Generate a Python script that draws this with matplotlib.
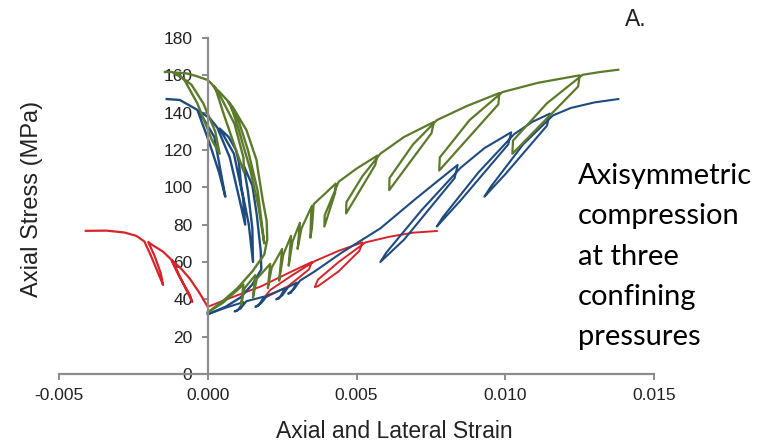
import matplotlib
matplotlib.use('Agg')
import matplotlib.pyplot as plt
from matplotlib.ticker import FormatStrFormatter

# ---- data (strain, stress in MPa) ----
# red: lowest confining pressure
red_axial_x = [0.0000, 0.0008, 0.0018, 0.0027, 0.0035, 0.0034, 0.0027, 0.0020, 0.0019, 0.0021, 0.0028, 0.0036,
               0.0044, 0.0052, 0.0051, 0.0044, 0.0037, 0.0036, 0.0037, 0.0044, 0.0053,
               0.0061, 0.0069, 0.0077]
red_axial_y = [36, 41, 47, 54, 60, 56, 47, 41.5, 41, 45, 52.5, 60.5,
               66, 70.5, 66, 55, 47, 46.6, 50.5, 60, 70.5,
               73.5, 75.7, 76.6]
red_lat_x = [0.0000, -0.0003, -0.0006, -0.0009, -0.0012, -0.00102, -0.00072, -0.00052, -0.00062, -0.00095, -0.00124,
             -0.0015, -0.0019, -0.0020, -0.00178, -0.00158, -0.0015, -0.00164, -0.0019, -0.00213,
             -0.0024, -0.0028, -0.0034, -0.0041]
red_lat_y = [36, 44, 51, 56.5, 61, 55, 45, 38.6, 43, 52, 61.5,
             65.5, 69.5, 70.7, 63, 54, 47.7, 53, 63, 71,
             74, 75.8, 76.8, 76.7]

# blue: middle confining pressure
blue_axial_x = [0.0000, 0.0006, 0.0012, 0.0010, 0.0009, 0.0011, 0.0013, 0.0019, 0.0017, 0.0016, 0.0018,
                0.0020, 0.0026, 0.0024, 0.0023, 0.0025, 0.0027, 0.0030, 0.0028, 0.0027, 0.0029, 0.0031,
                0.0036, 0.0045, 0.0058, 0.0070, 0.0084, 0.0083, 0.0066, 0.0058, 0.0060, 0.0072, 0.0085,
                0.0093, 0.0102, 0.0101, 0.0085, 0.0077, 0.0079, 0.0091, 0.0103, 0.0109, 0.0115, 0.0114,
                0.0100, 0.0093, 0.0095, 0.0106, 0.0116, 0.0122, 0.0130, 0.0138]
blue_axial_y = [32, 35.5, 38.5, 34, 33.5, 35, 39, 41.5, 36.5, 36, 38,
                42, 46, 40.5, 40, 42, 46.5, 49, 43.5, 43, 45.5, 50,
                55, 65, 78, 94, 112, 105, 72, 60, 65, 88, 110.5,
                121, 129.5, 123, 93, 79, 84, 108, 128.5, 135, 139.5, 133,
                107, 95, 100, 123, 138.5, 142.5, 145.5, 147.3]
blue_lat_x = [0.0000, 0.0006, 0.0011, 0.0015, 0.0018, 0.00178, 0.00165, 0.0015, 0.0012, 0.00135, 0.0015,
              0.00152, 0.00138, 0.00113, 0.00105, 0.00095, 0.0007, 0.0004, 0.00088, 0.00118, 0.00126,
              0.00106, 0.00074, 0.00032, 0.00007, -0.0003, 0.00022, 0.00055, 0.00059, 0.00038, 0.00003,
              -0.00035, -0.00094, -0.00138]
blue_lat_y = [32, 36, 41, 48, 56, 66, 85, 101, 112, 98, 78,
              60, 80, 100, 113, 120, 127, 131.5, 118, 95, 80,
              94, 116, 132, 137, 141, 127, 98.5, 95, 108, 125,
              141.5, 146.8, 147.3]

# green: highest confining pressure
green_axial_x = [0.0000, 0.0005, 0.0010, 0.0012, 0.00112, 0.00124, 0.0016, 0.00152, 0.00165, 0.0021,
                 0.00202, 0.00215, 0.0025, 0.0024, 0.00254, 0.0028, 0.00272, 0.00285, 0.0031, 0.00302,
                 0.00315, 0.0035, 0.00347, 0.00345, 0.0035, 0.00356, 0.0039, 0.0043, 0.00428, 0.00392,
                 0.00393, 0.0044, 0.0050, 0.0057, 0.00563, 0.00465, 0.00466, 0.0052, 0.0058, 0.0066,
                 0.0076, 0.00752, 0.0061, 0.00611, 0.0069, 0.0077, 0.0087, 0.0098, 0.00977, 0.00778,
                 0.0078, 0.0088, 0.0099, 0.0111, 0.0125, 0.01245, 0.01024, 0.01026, 0.0114, 0.0126,
                 0.0132, 0.0138]
green_axial_y = [33, 38, 45, 48, 37, 46, 53, 41, 51, 59,
                 46, 57, 67, 50, 64, 74, 58, 71, 81, 67,
                 78, 90, 84, 73, 78, 91, 96, 102, 97, 79,
                 85, 103, 110, 117, 112, 86, 92, 106, 118, 127,
                 135, 129, 98.5, 105, 123, 136, 143.5, 150.5, 144.5, 109,
                 116, 136, 151, 156, 160, 154, 118, 125, 145, 160.3,
                 161.8, 163]
green_lat_x = [0.0000, 0.0005, 0.0010, 0.0015, 0.0019, 0.0020, 0.00198, 0.00185, 0.0017, 0.00164,
               0.0013, 0.00084, 0.0007, 0.00105, 0.00135, 0.00168, 0.0019, 0.0017, 0.00142, 0.00102,
               0.00075, 0.0004, 0.0002, 0.00045, 0.0009, 0.0012, 0.00122, 0.00095, 0.00052, 0.00025,
               0.0000, -0.0004, -0.0007, -0.0011, -0.00055, -0.00015, 0.00025, 0.0004, 0.00015, -0.00035,
               -0.0008, -0.0012, -0.00144]
green_lat_y = [33, 39, 46, 55, 64, 72, 82, 93, 108, 114.6,
               130.7, 143, 145.5, 135, 120, 98, 70, 90, 110, 132,
               145, 151, 154, 148, 134, 116, 108, 120, 140, 153.5,
               157.5, 159.7, 161, 161.5, 155, 145, 130, 118, 125, 145,
               158, 161.8, 161.8]

x_ticks = [-0.005, 0.000, 0.005, 0.010, 0.015]
y_ticks = [0, 20, 40, 60, 80, 100, 120, 140, 160, 180]

red = '#d8232a'
blue = '#1f4b7e'
green = '#5c7a2b'
grey = '#8c8c8c'

plt.rcParams['font.family'] = ['Liberation Sans', 'DejaVu Sans']

fig = plt.figure(figsize=(7.71, 4.45), dpi=100)
ax = fig.add_axes([59 / 771, 71 / 445, 595 / 771, 336 / 445])

ax.plot(red_axial_x, red_axial_y, color=red, lw=1.4)
ax.plot(red_lat_x, red_lat_y, color=red, lw=1.6)
ax.plot(blue_axial_x, blue_axial_y, color=blue, lw=1.5)
ax.plot(blue_lat_x, blue_lat_y, color=blue, lw=1.7)
ax.plot(green_axial_x, green_axial_y, color=green, lw=1.6)
ax.plot(green_lat_x, green_lat_y, color=green, lw=1.7)

ax.set_xlim(-0.005, 0.015)
ax.set_ylim(0, 180)
ax.set_xticks(x_ticks)
ax.set_yticks(y_ticks)
ax.xaxis.set_major_formatter(FormatStrFormatter('%.3f'))

# axes drawn through the origin, excel style
ax.spines['left'].set_position(('data', 0))
ax.spines['top'].set_visible(False)
ax.spines['right'].set_visible(False)
for s in ['left', 'bottom']:
    ax.spines[s].set_color(grey)
    ax.spines[s].set_linewidth(1.6)
ax.tick_params(axis='both', direction='out', length=4, width=1.4, color=grey,
               labelsize=12.5, labelcolor='#222222')
ax.tick_params(axis='y', pad=7)
ax.tick_params(axis='x', pad=6)

fig.text(394 / 771, 1 - 438 / 445, 'Axial and Lateral Strain', ha='center', va='baseline',
         fontsize=16.5, color='#222222')
fig.text(32 / 771, 1 - 199 / 445, 'Axial Stress (MPa)', ha='center', va='center',
         rotation=90, fontsize=17, color='#222222')
fig.text(625 / 771, 1 - 26 / 445, 'A.', ha='left', va='baseline', fontsize=16.5, color='#222222')
fig.text(578 / 771, 1 - 163 / 445,
         'Axisymmetric\ncompression\nat three\nconfining\npressures',
         ha='left', va='top', fontsize=21, family=['Lato', 'DejaVu Sans'],
         linespacing=1.68, color='black')

plt.savefig('out.png', dpi=100)
plt.close(fig)
